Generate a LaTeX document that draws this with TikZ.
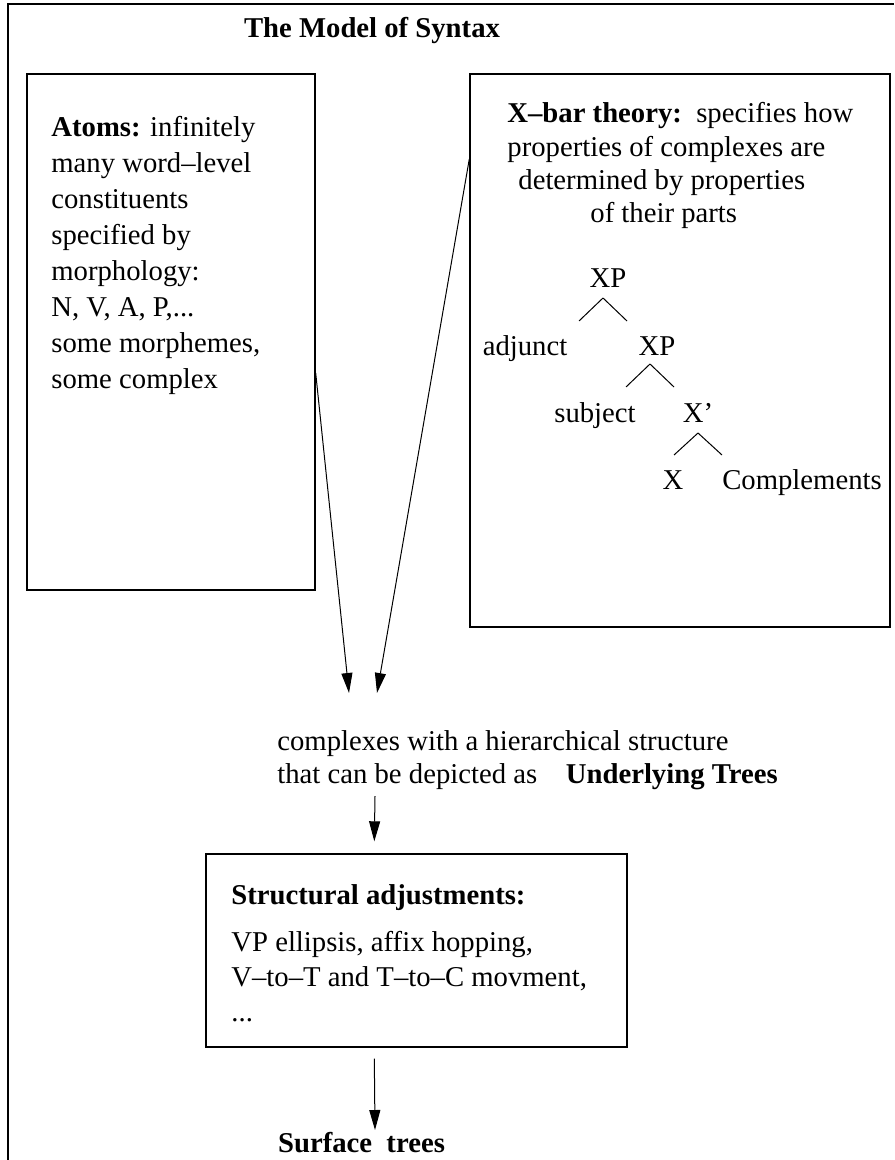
\documentclass[tikz,border=0pt]{standalone}
\usepackage{fontspec}
\setmainfont{Liberation Serif}
\usetikzlibrary{arrows.meta}

\begin{document}
\fontsize{14.35}{18}\selectfont
\begin{tikzpicture}[
  x=0.5pt, y=-0.5pt,
  box/.style={draw, line width=0.7pt, inner sep=0pt},
  txt/.style={inner sep=0pt, align=left, anchor=north west},
  lbl/.style={inner sep=0pt, anchor=base},
  branch/.style={line width=0.5pt},
  arr/.style={-{Triangle[length=10pt, width=5.5pt]}, line width=0.5pt}
]
\useasboundingbox (0,0) rectangle (894,1160);
% ---------- Frame and title ----------
\draw[line width=0.9pt] (8,1160) |- (894,4);
\node[lbl] (title) at (372,38) {\textbf{The Model of Syntax}};

% ---------- Atoms ----------
\node[box, minimum width=144pt, minimum height=258pt] (atomsbox) at (171,332) {};
\node[txt] (atoms) at (51,116)
  {\textbf{Atoms:} infinitely\\ many word--level\\ constituents\\ specified by\\
   morphology:\\ N, V, A, P,...\\ some morphemes,\\ some complex};

% ---------- X-bar theory ----------
\node[box, minimum width=210pt, minimum height=276.5pt] (xbarbox) at (680,350.5) {};
\node[txt, font=\fontsize{14.35}{16.7}\selectfont] (xbar) at (507,102)
  {\textbf{X--bar theory:}\ \ specifies how\\ properties of complexes are\\
   \hspace*{5.5pt}determined by properties\\ \hspace*{41.5pt}of their parts};

% ---------- Tree ----------
\node[lbl] (xp1)     at (608,288) {XP};
\node[lbl] (adjunct) at (525,355) {adjunct};
\node[lbl] (xp2)     at (657,355) {XP};
\node[lbl] (subject) at (595,422) {subject};
\node[lbl] (xbr)     at (698,422) {X'};
\node[lbl] (xhead)   at (673,489) {X};
\node[lbl] (comps)   at (802,489) {Complements};
\draw[branch] ([shift={(-5,10)}]xp1.base) coordinate (f1) -- +(-24,23) (f1) -- +(24,23);
\draw[branch] ([shift={(-7,9)}]xp2.base)  coordinate (f2) -- +(-24,23) (f2) -- +(24,23);
\draw[branch] ([shift={(0,11)}]xbr.base)  coordinate (f3) -- +(-24,22) (f3) -- +(24,22);

% ---------- Underlying trees ----------
\node[txt, font=\fontsize{14.35}{16.5}\selectfont] (complex) at (277,730)
  {complexes with a hierarchical structure\\ that can be depicted as\quad\textbf{Underlying Trees}};
\draw[arr] ([shift={(0,41)}]atomsbox.east) -- ([shift={(72,-37)}]complex.north west);
\draw[arr] ([shift={(0,-191.5)}]xbarbox.west) -- ([shift={(100,-37)}]complex.north west);

% ---------- Structural adjustments ----------
\node[box, minimum width=210.5pt, minimum height=96.5pt] (adjbox) at (416.5,950.5) {};
\node[txt, font=\fontsize{14.35}{17.5}\selectfont] (adjust) at (231,884)
  {\textbf{Structural adjustments:}\\[6pt] VP ellipsis, affix hopping,\\
   V--to--T and T--to--C movment,\\ ...};
\draw[arr] ([shift={(98,6)}]complex.south west) -- ([shift={(169,-12)}]adjbox.north west);

% ---------- Surface trees ----------
\node[lbl] (surf) at (361.5,1152) {\textbf{Surface\ \ trees}};
\draw[arr] ([shift={(169,11)}]adjbox.south west) -- ([shift={(13.5,-22)}]surf.base);
\end{tikzpicture}
\end{document}
